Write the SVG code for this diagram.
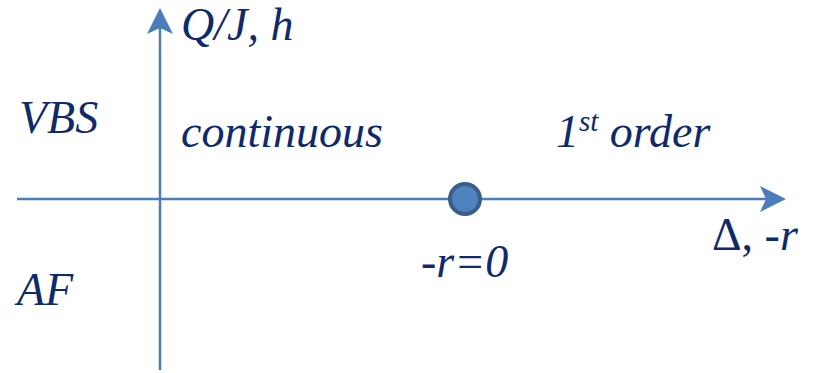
<svg xmlns="http://www.w3.org/2000/svg" width="833" height="373" viewBox="0 0 833 373">
<rect width="833" height="373" fill="#fff"/>
<g id="connectors" stroke="#4A7EBB" stroke-width="2.5">
<line x1="17" y1="199" x2="770" y2="199"/>
<path d="M760,186 L786,199 L760,212 L766,199 Z" fill="#4A7EBB" stroke="none"/>
<line x1="160" y1="370" x2="160" y2="22"/>
<path d="M147,34 L160,8 L173,34 L160,28 Z" fill="#4A7EBB" stroke="none"/>
</g>
<g id="point">
<circle cx="465" cy="199" r="15" fill="#4F81BD" stroke="#385D8A" stroke-width="4"/>
</g>
<g id="labels" fill="#0F2A6B">
<text x="181" y="40" font-family="serif" font-style="italic" font-size="46">Q/J, h</text>
<text x="19" y="133" font-family="serif" font-style="italic" font-size="46">VBS</text>
<text x="181" y="147" font-family="serif" font-style="italic" font-size="46">continuous</text>
<text x="556" y="147" font-family="serif" font-style="italic" font-size="46">1<tspan font-size="29" dy="-16">st</tspan><tspan dy="16"> order</tspan></text>
<text x="712" y="250" font-family="serif" font-style="italic" font-size="46"><tspan font-style="normal">Δ,</tspan> -r</text>
<text x="421" y="277" font-family="serif" font-style="italic" font-size="46">-r=0</text>
<text x="17" y="305" font-family="serif" font-style="italic" font-size="46">AF</text>
</g>
</svg>
